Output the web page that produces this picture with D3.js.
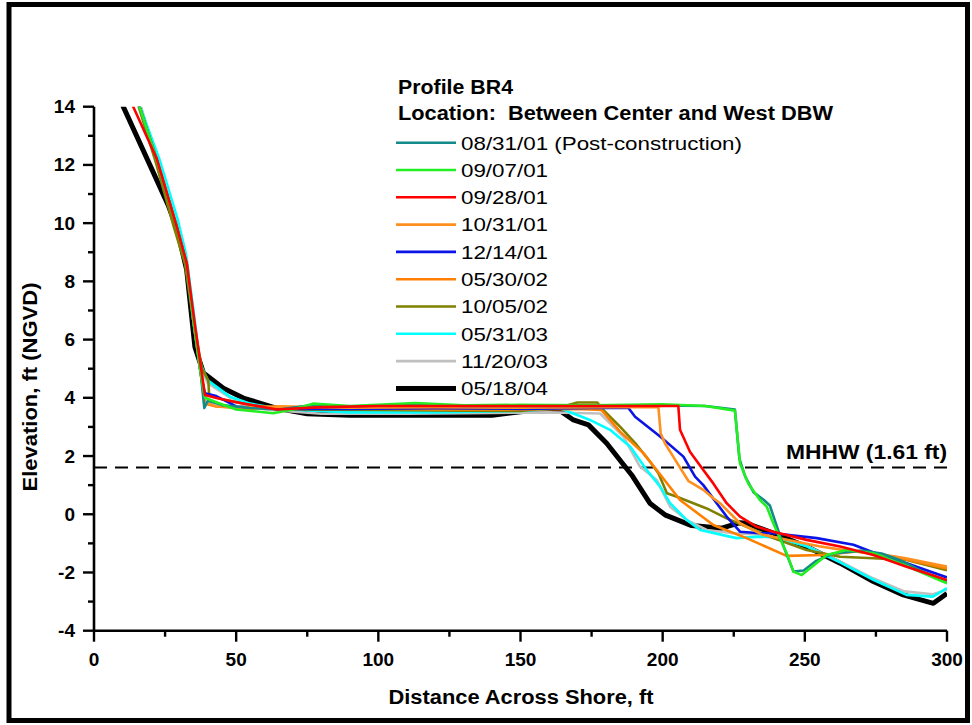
<!DOCTYPE html>
<html><head><meta charset="utf-8">
<script src="https://cdn.jsdelivr.net/npm/d3@7"></script>
<style>
html,body{margin:0;padding:0;background:#fff;}
text{font-family:"Liberation Sans",Arial,sans-serif;}
</style></head>
<body>
<svg id="c" width="972" height="725"></svg>
<script>
// ---- data ----
const seriesNames = ["08/31/01 (Post-construction)","09/07/01","09/28/01","10/31/01","12/14/01","05/30/02","10/05/02","05/31/03","11/20/03","05/18/04"];
const seriesColors = ["#138a8a","#22ee22","#ff0000","#ff9020","#0a14e6","#ff8000","#808000","#00ffff","#c0c0c0","#000000"];
const xTicks = [0,50,100,150,200,250,300];
const yTicks = [-4,-2,0,2,4,6,8,10,12,14];
const mhhw = 1.61;

const p0831 = [[11,15.5],[22,12.2],[29,9.9],[32.6,8.6],[35,6.6],[37.6,4.8],[38.8,3.65],[40,3.9],[45,3.75],[55,3.65],[65,3.6],[77,3.75],[90,3.7],[113,3.78],[130,3.72],[150,3.72],[175,3.72],[200,3.74],[215,3.72],[225.4,3.6],[227,1.9],[229,1.3],[232,0.75],[235.5,0.5],[237.7,0.3],[242.5,-1.1],[246,-1.97],[249.6,-1.93],[254,-1.6],[260,-1.35],[270,-1.25],[277,-1.35],[284,-1.6],[291,-1.95],[300,-2.3]];
const p0907 = [[11,15.5],[22,12.2],[29,9.9],[32.6,8.6],[35,6.6],[37.6,4.8],[39,4.0],[43,3.85],[50,3.6],[63,3.47],[70,3.6],[77,3.8],[90,3.72],[113,3.82],[130,3.74],[150,3.76],[175,3.74],[200,3.78],[215,3.72],[225.4,3.56],[227.2,1.75],[230.1,1.06],[234.2,0.49],[236.6,0.26],[238.9,-0.31],[243.6,-1.34],[246,-1.97],[248.9,-2.09],[257.7,-1.4],[264.7,-1.23],[274.1,-1.34],[283.5,-1.68],[291.7,-2.03],[300,-2.37]];
const p0928 = [[10.5,15.5],[13.8,14],[22,12.23],[29.1,9.88],[32.6,8.62],[35.5,6.5],[39,4.1],[43.1,3.99],[50,3.85],[64.3,3.6],[80,3.68],[100,3.72],[150,3.72],[180,3.72],[205.5,3.72],[206.1,2.9],[209.6,2.15],[214.3,1.52],[217.8,1.06],[222.5,0.38],[227.2,-0.08],[233.1,-0.43],[238.9,-0.6],[250.6,-0.88],[262.4,-1.11],[274.1,-1.4],[285.8,-1.8],[300,-2.26]];
const p1031 = [[11,15.5],[22,12.2],[29,9.9],[32.6,8.6],[35,6.6],[37.6,4.8],[39,3.85],[43,3.7],[50,3.68],[65,3.7],[90,3.66],[120,3.68],[150,3.66],[180,3.68],[198.5,3.68],[199.3,2.78],[200.8,2.44],[203.7,1.98],[209,1.15],[214.3,0.84],[217.8,0.55],[220.2,0.38],[227.2,-0.31],[235,-0.7],[245,-0.9],[255,-1.1],[265,-1.25],[275,-1.35],[285,-1.5],[300,-1.8]];
const p1214 = [[11,15.5],[22,12.2],[29,9.9],[32.6,8.6],[35,6.6],[37.6,4.8],[39,4.16],[43,4.06],[50.2,3.7],[65,3.62],[90,3.62],[120,3.64],[150,3.62],[175,3.65],[187.9,3.66],[190.3,3.35],[199.1,2.67],[207.3,1.98],[211.4,1.29],[214.3,1.0],[219,0.38],[222.5,-0.08],[227.2,-0.6],[234.2,-0.65],[238.9,-0.65],[254.2,-0.82],[267.1,-1.05],[276.4,-1.4],[285.8,-1.68],[300,-2.17]];
const p0530 = [[11,15.5],[22,12.2],[29,9.9],[32.6,8.6],[35,6.6],[37.6,4.8],[39,3.8],[43.1,3.7],[55,3.62],[65,3.7],[90,3.64],[120,3.6],[150,3.6],[170,3.62],[178.5,3.58],[185,2.84],[193.2,2.1],[197.9,1.52],[206.1,0.49],[217.8,-0.37],[229.5,-0.82],[243.6,-1.43],[256.5,-1.4],[268.2,-1.28],[281.1,-1.46],[300,-1.86]];
const p1005 = [[11,15.5],[22,12.0],[28,9.9],[32,8.6],[35,6.6],[38,5.0],[40.2,4.6],[40.5,4.1],[45,3.95],[55,3.75],[70,3.6],[100,3.58],[130,3.56],[150,3.55],[165,3.7],[170,3.84],[177,3.84],[179.1,3.58],[185,3.01],[190.9,2.38],[195.5,1.81],[198.5,1.41],[201.5,0.72],[205,0.6],[215.5,0.2],[222.5,-0.14],[229.5,-0.43],[238.9,-0.82],[250.6,-1.23],[262.4,-1.46],[274.1,-1.51],[285.8,-1.57],[300,-1.92]];
const p0531 = [[13,15.5],[16.2,14],[23,12.2],[29.5,10.1],[32.2,9.0],[34.6,7.3],[37.3,5.2],[40,4.6],[47.8,4.04],[55,3.8],[65,3.62],[90,3.5],[120,3.5],[150,3.55],[163.9,3.64],[174.4,3.24],[181.5,2.9],[188.6,2.32],[194.4,1.52],[199.1,0.95],[202.6,0.38],[208.5,-0.2],[213.2,-0.54],[225.9,-0.82],[234.2,-0.77],[240,-0.8],[250.6,-1.1],[262.4,-1.65],[274.1,-2.25],[285.8,-2.77],[295,-2.83],[300,-2.54]];
const p1120 = [[12,15.5],[22,12.2],[29,10.0],[32.6,8.8],[35,6.8],[37.6,5.0],[40,4.5],[48,4.0],[60,3.6],[80,3.45],[110,3.45],[140,3.48],[160,3.5],[170,3.48],[178,3.46],[186.2,2.67],[192,1.64],[197.9,1.18],[202.6,0.26],[208.5,-0.2],[215.5,-0.54],[224.8,-0.65],[235,-0.7],[250,-1.05],[262,-1.6],[274,-2.2],[285,-2.65],[295,-2.75],[300,-2.6]];
const p0518 = [[8,15],[10.3,14],[26.1,10.62],[29.3,9.77],[32.6,8.39],[35.5,5.75],[38.5,4.85],[45.5,4.33],[52.5,3.99],[64.3,3.64],[75,3.45],[90,3.4],[120,3.4],[140,3.4],[150,3.52],[156.9,3.58],[163.9,3.56],[168.6,3.24],[173.9,3.07],[180.3,2.44],[189.1,1.35],[195.5,0.38],[200.8,-0.02],[210.2,-0.39],[220.8,-0.48],[227.2,-0.29],[229.5,-0.31],[238.9,-0.65],[250.6,-1.11],[262.4,-1.68],[274.1,-2.31],[284.6,-2.77],[295.2,-3.06],[300,-2.72]];
const seriesData = [p0831,p0907,p0928,p1031,p1214,p0530,p1005,p0531,p1120,p0518];
const drawOrder = [9,8,7,6,5,4,3,0,1,2];

// ---- layout ----
const svg = d3.select("#c");
const L = 94, R = 947, T = 106.7, B = 630.7;
const x = d3.scaleLinear().domain([0,300]).range([L,R]);
const y = d3.scaleLinear().domain([-4,14]).range([B,T]);

svg.append("rect").attr("x",9).attr("y",4.5).attr("width",958.5).attr("height",716)
  .attr("fill","none").attr("stroke","#000").attr("stroke-width",5);

svg.append("defs").append("clipPath").attr("id","clip")
  .append("rect").attr("x",L).attr("y",T).attr("width",R-L).attr("height",B-T);

// MHHW
svg.append("line").attr("x1",x(0)).attr("x2",x(300)).attr("y1",y(mhhw)).attr("y2",y(mhhw))
  .attr("stroke","#000").attr("stroke-width",2).attr("stroke-dasharray","13,8");
svg.append("text").attr("x",786).attr("y",459).attr("font-size",20).attr("font-weight","bold")
  .attr("textLength",161).attr("lengthAdjust","spacingAndGlyphs").text("MHHW (1.61 ft)");

// lines
const line = d3.line().x(d=>x(d[0])).y(d=>y(d[1]));
const g = svg.append("g").attr("clip-path","url(#clip)");
drawOrder.forEach(i=>{
  g.append("path").attr("d",line(seriesData[i])).attr("fill","none")
   .attr("stroke",seriesColors[i]).attr("stroke-width",i===9?5:2.6)
   .attr("stroke-linejoin","round");
});

// axes
const xAxis = svg.append("g").attr("transform",`translate(0,${B})`);
xAxis.append("line").attr("x1",L).attr("x2",R).attr("stroke","#000").attr("stroke-width",2.6);
d3.range(0,301,25).forEach(v=>{
  const major = v%50===0;
  xAxis.append("line").attr("x1",x(v)).attr("x2",x(v)).attr("y1",0).attr("y2",major?11:6)
    .attr("stroke","#000").attr("stroke-width",2.4);
});
xTicks.forEach(v=>{
  xAxis.append("text").attr("x",x(v)).attr("y",35).attr("text-anchor","middle")
    .attr("font-size",19).attr("font-weight","bold").text(v);
});
const yAxis = svg.append("g").attr("transform",`translate(${L},0)`);
yAxis.append("line").attr("y1",T).attr("y2",B).attr("stroke","#000").attr("stroke-width",2.6);
d3.range(-4,14.1,1).forEach(v=>{
  const major = v%2===0;
  yAxis.append("line").attr("x1",0).attr("x2",major?-11:-6).attr("y1",y(v)).attr("y2",y(v))
    .attr("stroke","#000").attr("stroke-width",2.4);
});
yTicks.forEach(v=>{
  yAxis.append("text").attr("x",-19).attr("y",y(v)+6.5).attr("text-anchor","end")
    .attr("font-size",19).attr("font-weight","bold").text(v);
});

// axis titles
svg.append("text").attr("x",521).attr("y",704).attr("text-anchor","middle")
  .attr("font-size",20).attr("font-weight","bold")
  .attr("textLength",265).attr("lengthAdjust","spacingAndGlyphs").text("Distance Across Shore, ft");
svg.append("text").attr("transform","translate(37,387) rotate(-90)").attr("text-anchor","middle")
  .attr("font-size",20).attr("font-weight","bold")
  .attr("textLength",209).attr("lengthAdjust","spacingAndGlyphs").text("Elevation, ft (NGVD)");

// legend
svg.append("text").attr("x",398).attr("y",94).attr("font-size",20).attr("font-weight","bold")
  .attr("textLength",115).attr("lengthAdjust","spacingAndGlyphs").text("Profile BR4");
svg.append("text").attr("x",398).attr("y",120).attr("font-size",20).attr("font-weight","bold")
  .style("white-space","pre")
  .attr("textLength",435).attr("lengthAdjust","spacingAndGlyphs").text("Location:  Between Center and West DBW");
seriesNames.forEach((n,i)=>{
  const yy = 142.7 + i*27.3;
  svg.append("line").attr("x1",396).attr("x2",456).attr("y1",yy).attr("y2",yy)
    .attr("stroke",seriesColors[i]).attr("stroke-width",i===9?5:2.6);
  svg.append("text").attr("x",461).attr("y",yy+6.8).attr("font-size",19)
    .attr("textLength",i===0?281:87).attr("lengthAdjust","spacingAndGlyphs").text(n);
});
</script>
</body></html>
